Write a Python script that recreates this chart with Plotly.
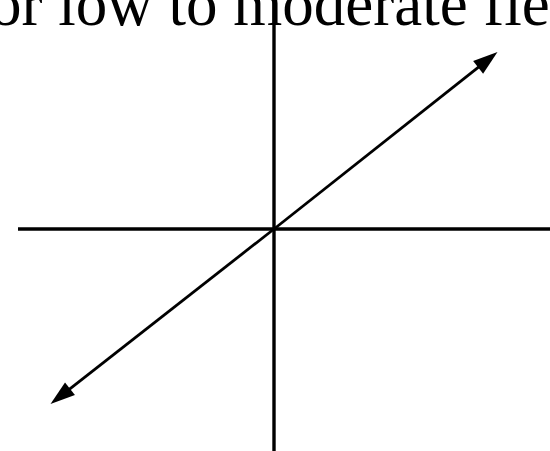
import plotly.graph_objects as go

# coordinates relative to where the two axes cross (y up)
axis_h_x = [-256, 276]
axis_h_y = [0, 0]
axis_v_x = [0, 0]
axis_v_y = [-222, 229]
diag_up_x = [0, 223.5]
diag_up_y = [0, 177]
diag_down_x = [0, -223.5]
diag_down_y = [0, -175]
caption = "or low to moderate fie"

fig = go.Figure()
fig.add_trace(go.Scatter(x=axis_h_x, y=axis_h_y, mode="lines",
                         line=dict(color="black", width=3.4), hoverinfo="skip"))
fig.add_trace(go.Scatter(x=axis_v_x, y=axis_v_y, mode="lines",
                         line=dict(color="black", width=3.4), hoverinfo="skip"))
for xs, ys in [(diag_up_x, diag_up_y), (diag_down_x, diag_down_y)]:
    fig.add_trace(go.Scatter(x=xs, y=ys, mode="lines+markers",
                             line=dict(color="black", width=2.8),
                             marker=dict(symbol="arrow", size=[0, 26], color="black",
                                         opacity=1, angleref="previous",
                                         line=dict(width=0)),
                             hoverinfo="skip"))

fig.add_annotation(x=-12 / 550, y=1 - 4 / 451, xref="paper", yref="paper",
                   text=caption, showarrow=False, xanchor="left", yanchor="middle",
                   font=dict(family="Liberation Serif", size=63, color="black"))

fig.update_layout(
    width=550, height=451, margin=dict(l=0, r=0, t=0, b=0),
    paper_bgcolor="white", plot_bgcolor="white", showlegend=False,
    xaxis=dict(range=[-274, 276], visible=False, fixedrange=True),
    yaxis=dict(range=[-222, 229], visible=False, fixedrange=True),
)
fig.write_html("out.html", config={"displayModeBar": False},
               post_script="document.body.style.margin='0';document.body.style.overflow='hidden';")
